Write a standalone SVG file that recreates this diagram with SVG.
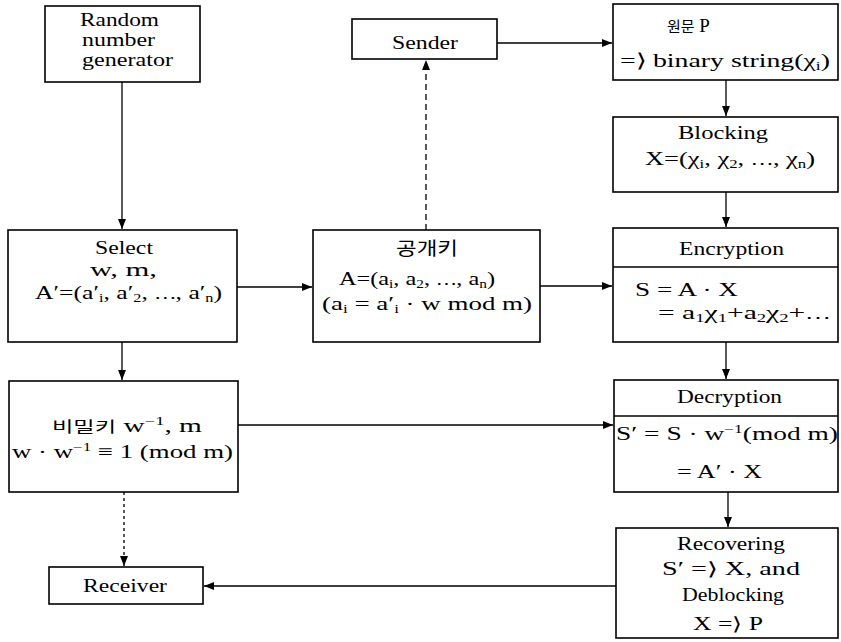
<svg xmlns="http://www.w3.org/2000/svg" width="841" height="642" viewBox="0 0 841 642">
<style>
text{font-family:"Liberation Serif","Noto Sans CJK KR",serif;font-size:19px;fill:#000}
.k{font-family:"Noto Sans CJK KR","Liberation Serif",sans-serif;font-size:15px}
.e{font-family:"Noto Sans CJK KR",sans-serif;font-size:15px}
.sb{font-size:12px}
.box{fill:#fff;stroke:#000;stroke-width:1.6}
.ln{fill:none;stroke:#000;stroke-width:1.3}
.dash{stroke-dasharray:6 4}
.dot{stroke-dasharray:3 3}
</style>
<defs>
<marker id="ah" markerWidth="10" markerHeight="8" refX="10" refY="4" orient="auto" markerUnits="userSpaceOnUse">
<path d="M0,0 L10,4 L0,8 Z" fill="#000"/>
</marker>
</defs>
<g id="connectors">
<path class="ln" d="M122,82 V229" marker-end="url(#ah)"/>
<path class="ln" d="M237,287 H312" marker-end="url(#ah)"/>
<path class="ln dash" d="M426,230 V60" marker-end="url(#ah)"/>
<path class="ln" d="M497,43 H612" marker-end="url(#ah)"/>
<path class="ln" d="M726,80 V116" marker-end="url(#ah)"/>
<path class="ln" d="M726,192 V227" marker-end="url(#ah)"/>
<path class="ln" d="M540,286 H612" marker-end="url(#ah)"/>
<path class="ln" d="M726,342 V379" marker-end="url(#ah)"/>
<path class="ln" d="M122,342 V380" marker-end="url(#ah)"/>
<path class="ln" d="M238,425 H613" marker-end="url(#ah)"/>
<path class="ln" d="M728,492 V527" marker-end="url(#ah)"/>
<path class="ln dot" d="M124,492 V566" marker-end="url(#ah)"/>
<path class="ln" d="M616,586 H204" marker-end="url(#ah)"/>
</g>
<g id="rng">
<rect class="box" x="45" y="6" width="155" height="76"/>
<text x="80" y="26" textLength="79" lengthAdjust="spacingAndGlyphs" style="font-size:18px">Random</text>
<text x="82" y="46" textLength="73" lengthAdjust="spacingAndGlyphs" style="font-size:18px">number</text>
<text x="82" y="66" textLength="91" lengthAdjust="spacingAndGlyphs" style="font-size:18px">generator</text>
</g>
<g id="sender">
<rect class="box" x="352" y="19" width="145" height="40"/>
<text x="392" y="49" textLength="66" lengthAdjust="spacingAndGlyphs">Sender</text>
</g>
<g id="plaintext">
<rect class="box" x="613" y="4" width="225" height="76"/>
<text x="667" y="32"><tspan class="k">원문</tspan>  P</text>
<text x="620" y="67" textLength="210" lengthAdjust="spacingAndGlyphs">=⟩  binary  string(χ<tspan class="sb" dy="3">i</tspan><tspan dy="-3">)</tspan></text>
</g>
<g id="blocking">
<rect class="box" x="613" y="117" width="225" height="75"/>
<text x="678" y="139" textLength="90" lengthAdjust="spacingAndGlyphs">Blocking</text>
<text x="645" y="165" textLength="170" lengthAdjust="spacingAndGlyphs">X=(χ<tspan class="sb" dy="3">i</tspan><tspan dy="-3">, χ</tspan><tspan class="sb" dy="3">2</tspan><tspan dy="-3">, </tspan><tspan class="e">⋯</tspan>, χ<tspan class="sb" dy="3">n</tspan><tspan dy="-3">)</tspan></text>
</g>
<g id="select">
<rect class="box" x="8" y="230" width="229" height="112"/>
<text x="95" y="254" textLength="58" lengthAdjust="spacingAndGlyphs">Select</text>
<text x="90" y="276" textLength="67" lengthAdjust="spacingAndGlyphs">w,  m,</text>
<text x="35" y="299" textLength="187" lengthAdjust="spacingAndGlyphs">A′=(a′<tspan class="sb" dy="3">i</tspan><tspan dy="-3">, a′</tspan><tspan class="sb" dy="3">2</tspan><tspan dy="-3">, </tspan><tspan class="e">⋯</tspan>, a′<tspan class="sb" dy="3">n</tspan><tspan dy="-3">)</tspan></text>
</g>
<g id="publickey">
<rect class="box" x="313" y="230" width="227" height="112"/>
<text x="396" y="255" textLength="62" lengthAdjust="spacingAndGlyphs"><tspan class="k" style="font-size:18px">공개키</tspan></text>
<text x="339" y="285" textLength="156" lengthAdjust="spacingAndGlyphs">A=(a<tspan class="sb" dy="3">i</tspan><tspan dy="-3">, a</tspan><tspan class="sb" dy="3">2</tspan><tspan dy="-3">, </tspan><tspan class="e">⋯</tspan>, a<tspan class="sb" dy="3">n</tspan><tspan dy="-3">)</tspan></text>
<text x="322" y="310" textLength="210" lengthAdjust="spacingAndGlyphs">(a<tspan class="sb" dy="3">i</tspan><tspan dy="-3"> = a′</tspan><tspan class="sb" dy="3">i</tspan><tspan dy="-3"> · w  mod  m)</tspan></text>
</g>
<g id="encryption">
<rect class="box" x="613" y="228" width="225" height="114"/>
<line class="ln" x1="613" y1="267" x2="838" y2="267"/>
<text x="679" y="255" textLength="105" lengthAdjust="spacingAndGlyphs">Encryption</text>
<text x="635" y="296" textLength="103" lengthAdjust="spacingAndGlyphs">S = A · X</text>
<text x="658" y="319" textLength="172" lengthAdjust="spacingAndGlyphs">= a<tspan class="sb" dy="3">1</tspan><tspan dy="-3">χ</tspan><tspan class="sb" dy="3">1</tspan><tspan dy="-3">+a</tspan><tspan class="sb" dy="3">2</tspan><tspan dy="-3">χ</tspan><tspan class="sb" dy="3">2</tspan><tspan dy="-3">+</tspan><tspan class="e">⋯</tspan></text>
</g>
<g id="privatekey">
<rect class="box" x="9" y="381" width="229" height="111"/>
<text x="52" y="432" textLength="150" lengthAdjust="spacingAndGlyphs"><tspan class="k">비밀키</tspan>  w<tspan class="sb" dy="-7">−1</tspan><tspan dy="7">,  m</tspan></text>
<text x="12" y="458" textLength="221" lengthAdjust="spacingAndGlyphs">w · w<tspan class="sb" dy="-7">−1</tspan><tspan dy="7"> ≡ 1 (mod  m)</tspan></text>
</g>
<g id="decryption">
<rect class="box" x="614" y="380" width="224" height="112"/>
<line class="ln" x1="614" y1="416" x2="838" y2="416"/>
<text x="677" y="403" textLength="105" lengthAdjust="spacingAndGlyphs">Decryption</text>
<text x="616" y="440" textLength="222" lengthAdjust="spacingAndGlyphs">S′ = S · w<tspan class="sb" dy="-7">−1</tspan><tspan dy="7">(mod  m)</tspan></text>
<text x="677" y="478" textLength="85" lengthAdjust="spacingAndGlyphs">= A′ · X</text>
</g>
<g id="recovering">
<rect class="box" x="616" y="528" width="222" height="110"/>
<text x="677" y="550" textLength="108" lengthAdjust="spacingAndGlyphs" style="font-size:18px">Recovering</text>
<text x="662" y="575" textLength="138" lengthAdjust="spacingAndGlyphs" style="font-size:18px">S′ =⟩ X,  and</text>
<text x="682" y="601" textLength="102" lengthAdjust="spacingAndGlyphs" style="font-size:18px">Deblocking</text>
<text x="693" y="630" textLength="70" lengthAdjust="spacingAndGlyphs" style="font-size:18px">X =⟩ P</text>
</g>
<g id="receiver">
<rect class="box" x="49" y="567" width="154" height="37"/>
<text x="83" y="592" textLength="84" lengthAdjust="spacingAndGlyphs">Receiver</text>
</g>
</svg>
